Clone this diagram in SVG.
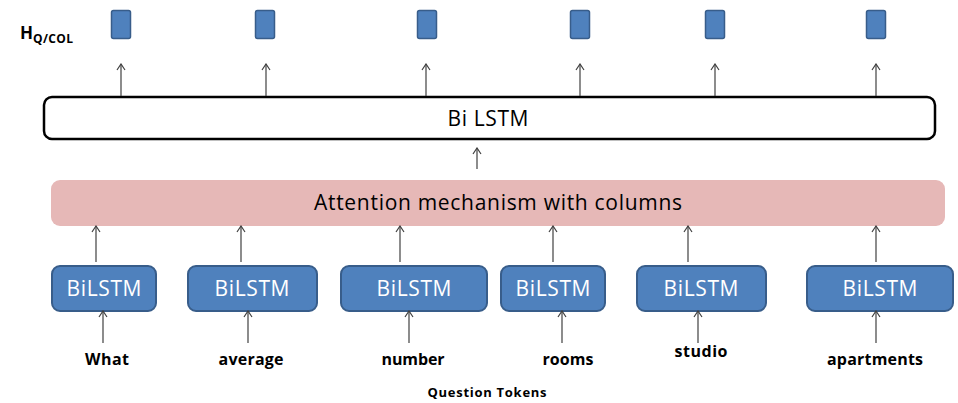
<svg xmlns="http://www.w3.org/2000/svg" width="958" height="403" viewBox="0 0 958 403">
<style>
.t{font-family:"Open Sans","Liberation Sans",sans-serif}
.h{fill:#4f81bd;stroke:#385d8a;stroke-width:1.5}
.b{fill:#4f81bd;stroke:#385d8a;stroke-width:2}
.bt{font-size:21px;fill:#ffffff;text-anchor:middle}
.w{font-size:16px;font-weight:bold;fill:#000;text-anchor:middle}
.a{stroke:#404040;stroke-width:1.2;fill:none;marker-end:url(#ah)}
</style>
<defs>
<marker id="ah" viewBox="0 0 10 10" refX="9" refY="5" markerWidth="10" markerHeight="10" markerUnits="userSpaceOnUse" orient="auto">
<polyline points="3,1 9,5 3,9" fill="none" stroke="#404040" stroke-width="1.2"/>
</marker>
</defs>
<g id="hlabel"><text class="t" x="20" y="39" font-size="17" font-weight="bold">H<tspan font-size="12" dy="4" textLength="40">Q/COL</tspan></text></g>
<g id="h1"><rect class="h" x="111.5" y="10.5" width="19" height="28" rx="2"/></g>
<g id="h2"><rect class="h" x="255.5" y="10.5" width="19" height="28" rx="2"/></g>
<g id="h3"><rect class="h" x="417.5" y="10.5" width="19" height="28" rx="2"/></g>
<g id="h4"><rect class="h" x="570.5" y="10.5" width="19" height="28" rx="2"/></g>
<g id="h5"><rect class="h" x="705.5" y="10.5" width="19" height="28" rx="2"/></g>
<g id="h6"><rect class="h" x="866.5" y="10.5" width="19" height="28" rx="2"/></g>
<g id="bilstm-top"><rect x="44" y="97" width="891" height="42" rx="8" fill="#fff" stroke="#000" stroke-width="2.5"/><text class="t" x="488" y="126" font-size="21" text-anchor="middle" textLength="81">Bi LSTM</text></g>
<g id="attention"><rect x="51" y="180" width="894" height="46" rx="9" fill="#e6b8b7"/><text class="t" x="498" y="210" font-size="21" text-anchor="middle" textLength="368">Attention mechanism with columns</text></g>
<g id="b1"><rect class="b" x="52" y="266" width="104" height="45" rx="8"/><text class="t bt" x="104" y="296" textLength="75">BiLSTM</text></g>
<g id="b2"><rect class="b" x="188" y="266" width="129" height="45" rx="8"/><text class="t bt" x="252" y="296" textLength="75">BiLSTM</text></g>
<g id="b3"><rect class="b" x="341" y="266" width="146" height="45" rx="8"/><text class="t bt" x="414" y="296" textLength="75">BiLSTM</text></g>
<g id="b4"><rect class="b" x="501" y="266" width="104" height="45" rx="8"/><text class="t bt" x="553" y="296" textLength="75">BiLSTM</text></g>
<g id="b5"><rect class="b" x="637" y="266" width="129" height="45" rx="8"/><text class="t bt" x="701" y="296" textLength="75">BiLSTM</text></g>
<g id="b6"><rect class="b" x="807" y="266" width="146" height="45" rx="8"/><text class="t bt" x="880" y="296" textLength="75">BiLSTM</text></g>
<g id="words">
<text class="t w" x="107" y="365" textLength="44">What</text>
<text class="t w" x="251" y="365" textLength="65">average</text>
<text class="t w" x="413" y="365" textLength="63">number</text>
<text class="t w" x="568" y="365" textLength="51">rooms</text>
<text class="t w" x="701" y="357" textLength="53">studio</text>
<text class="t w" x="875" y="365" textLength="96">apartments</text>
<text class="t" x="487" y="397" font-size="13" font-weight="bold" text-anchor="middle" textLength="119">Question Tokens</text>
</g>
<g id="connectors">
<line class="a" x1="121" y1="96" x2="121" y2="64"/>
<line class="a" x1="266" y1="96" x2="266" y2="64"/>
<line class="a" x1="426" y1="96" x2="426" y2="64"/>
<line class="a" x1="580" y1="96" x2="580" y2="64"/>
<line class="a" x1="715" y1="96" x2="715" y2="64"/>
<line class="a" x1="876" y1="96" x2="876" y2="64"/>
<line class="a" x1="477" y1="169" x2="477" y2="148"/>
<line class="a" x1="96" y1="262" x2="96" y2="226"/>
<line class="a" x1="241" y1="262" x2="241" y2="226"/>
<line class="a" x1="400" y1="262" x2="400" y2="226"/>
<line class="a" x1="553" y1="262" x2="553" y2="226"/>
<line class="a" x1="688" y1="262" x2="688" y2="226"/>
<line class="a" x1="876" y1="262" x2="876" y2="226"/>
<line class="a" x1="103" y1="343" x2="103" y2="311"/>
<line class="a" x1="248" y1="343" x2="248" y2="311"/>
<line class="a" x1="409" y1="343" x2="409" y2="311"/>
<line class="a" x1="562" y1="343" x2="562" y2="311"/>
<line class="a" x1="698" y1="343" x2="698" y2="311"/>
<line class="a" x1="876" y1="343" x2="876" y2="311"/>
</g>
</svg>
